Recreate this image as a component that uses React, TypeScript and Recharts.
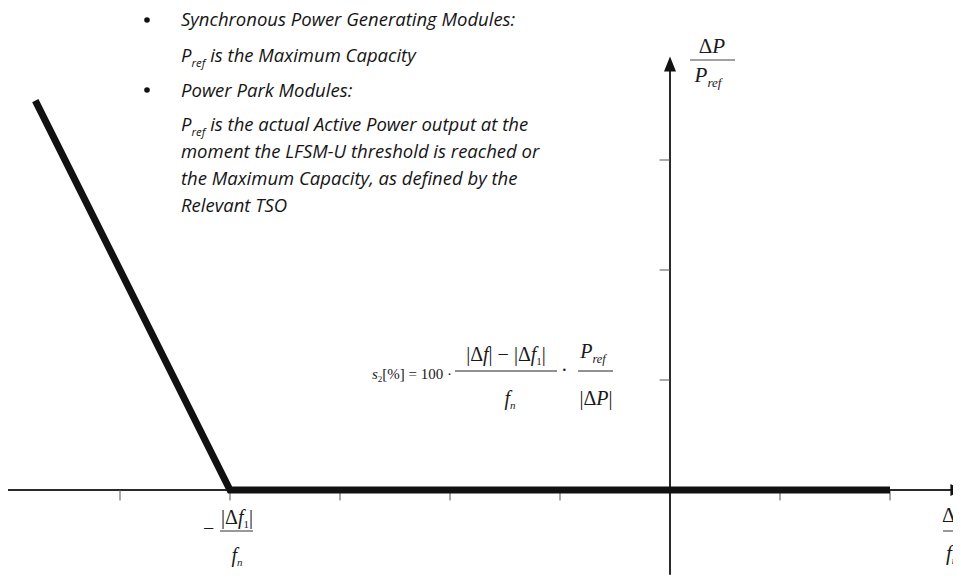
import React from 'react';
import {
  LineChart,
  Line,
  XAxis,
  YAxis,
  ReferenceLine,
  ReferenceDot,
} from 'recharts';

// one unit = 110px in the original drawing
const curveX = [-5.77, -4, 2];
const curveY = [3.54, 0, 0];
const xTicks = [-5, -4, -3, -2, -1, 1, 2];
const yTicks = [1, 2, 3];
const xAxisRange = [-6.03, 2.64];
const yAxisRange = [-0.77, 3.85];

const bulletLines = [
  'Synchronous Power Generating Modules:',
  'is the Maximum Capacity',
  'Power Park Modules:',
  'is the actual Active Power output at the',
  'moment the LFSM-U threshold is reached or',
  'the Maximum Capacity, as defined by the',
  'Relevant TSO',
];

const data = curveX.map((x, i) => ({ x, y: curveY[i] }));

const W = 961;
const H = 585;
const X_DOMAIN: [number, number] = [-670 / 110, 291 / 110];
const Y_DOMAIN: [number, number] = [-95 / 110, 490 / 110];

const AXIS = '#2a2a2a';
const TICK_LEN = 0.095;

const textFont = '"Open Sans", sans-serif';
const mathFont = '"Liberation Serif", "DejaVu Serif", serif';

const ArrowUp = (props: any) => {
  const { cx, cy } = props;
  return <polygon points={`${cx},${cy - 10} ${cx - 6},${cy + 5} ${cx + 6},${cy + 5}`} fill="#111" />;
};

const ArrowRight = (props: any) => {
  const { cx, cy } = props;
  return <polygon points={`${cx + 3},${cy} ${cx - 10},${cy - 6} ${cx - 10},${cy + 6}`} fill="#111" />;
};

const Pref = ({ size }: { size: number }) => (
  <>
    <tspan fontStyle="italic">P</tspan>
    <tspan fontSize={size * 0.62} dy={size * 0.25} fontStyle="italic">ref</tspan>
  </>
);

const Annotations = () => {
  const ys = [26, 62, 97, 131, 158, 185, 212];
  const fs = 18.5;
  return (
    <svg width={W} height={H} style={{ position: 'absolute', left: 0, top: 0, pointerEvents: 'none' }}>
      <g fontFamily={textFont} fontStyle="italic" fontSize={fs} fill="#151515">
        <circle cx={147} cy={20} r={2.8} fill="#111" />
        <circle cx={147} cy={90} r={2.8} fill="#111" />
        {bulletLines.map((t, i) => (
          <text key={i} x={181} y={ys[i]}>
            {i === 1 || i === 3 ? (
              <>
                <Pref size={fs} />
                <tspan dy={-fs * 0.25}> {t}</tspan>
              </>
            ) : (
              t
            )}
          </text>
        ))}
      </g>

      {/* formula */}
      <g fontFamily={mathFont} fontSize={15} fill="#1a1a1a">
        <text x={372} y={379}>
          <tspan fontStyle="italic">s</tspan>
          <tspan fontSize={9} dy={3}>2</tspan>
          <tspan dy={-3}>[%] = 100 ·</tspan>
        </text>
      </g>
      <g fontFamily={mathFont} fontSize={20} fill="#1a1a1a">
        <text x={506} y={361} textAnchor="middle">
          |Δ<tspan fontStyle="italic">f</tspan>| − |Δ<tspan fontStyle="italic">f</tspan>
          <tspan fontSize={11} dy={4}>1</tspan>
          <tspan dy={-4}>|</tspan>
        </text>
        <line x1={455} x2={557} y1={371} y2={371} stroke="#222" strokeWidth={1} />
        <text x={510} y={405} textAnchor="middle">
          <tspan fontStyle="italic">f</tspan>
          <tspan fontSize={11} dy={4} fontStyle="italic">n</tspan>
        </text>
        <text x={561} y={377}>·</text>
        <text x={593} y={358} textAnchor="middle">
          <Pref size={20} />
        </text>
        <line x1={578} x2={613} y1={371} y2={371} stroke="#222" strokeWidth={1} />
        <text x={596} y={405} textAnchor="middle">
          |Δ<tspan fontStyle="italic">P</tspan>|
        </text>
      </g>

      {/* y axis label */}
      <g fontFamily={mathFont} fontSize={21} fill="#1a1a1a">
        <text x={712} y={53} textAnchor="middle">
          Δ<tspan fontStyle="italic">P</tspan>
        </text>
        <line x1={690} x2={735} y1={60} y2={60} stroke="#444" strokeWidth={1} />
        <text x={708} y={82} textAnchor="middle">
          <Pref size={21} />
        </text>
      </g>

      {/* knee label */}
      <g fontFamily={mathFont} fontSize={20} fill="#1a1a1a">
        <text x={203} y={535}>−</text>
        <text x={237} y={524} textAnchor="middle">
          |Δ<tspan fontStyle="italic">f</tspan>
          <tspan fontSize={11} dy={4}>1</tspan>
          <tspan dy={-4}>|</tspan>
        </text>
        <line x1={220} x2={253} y1={531} y2={531} stroke="#333" strokeWidth={1} />
        <text x={237} y={562} textAnchor="middle">
          <tspan fontStyle="italic">f</tspan>
          <tspan fontSize={11} dy={4} fontStyle="italic">n</tspan>
        </text>
      </g>

      {/* x axis label, cut by the edge */}
      <g fontFamily={mathFont} fontSize={21} fill="#1a1a1a">
        <text x={942} y={522}>
          Δ<tspan fontStyle="italic">f</tspan>
        </text>
        <line x1={943} x2={961} y1={531} y2={531} stroke="#333" strokeWidth={1} />
        <text x={946} y={560}>
          <tspan fontStyle="italic">f</tspan>
          <tspan fontSize={11} dy={4} fontStyle="italic">n</tspan>
        </text>
      </g>
    </svg>
  );
};

export default function App() {
  return (
    <div style={{ position: 'relative', width: W, height: H, margin: -8, background: '#fff', overflow: 'hidden' }}>
      <LineChart width={W} height={H} data={data} margin={{ top: 0, right: 0, bottom: 0, left: 0 }}>
        <XAxis type="number" dataKey="x" domain={X_DOMAIN} allowDataOverflow hide />
        <YAxis type="number" domain={Y_DOMAIN} allowDataOverflow hide />

        <ReferenceLine
          segment={[{ x: xAxisRange[0], y: 0 }, { x: xAxisRange[1], y: 0 }]}
          stroke={AXIS}
          strokeWidth={2}
        />
        <ReferenceLine
          segment={[{ x: 0, y: yAxisRange[0] }, { x: 0, y: yAxisRange[1] }]}
          stroke={AXIS}
          strokeWidth={2}
        />
        {xTicks.map((t) => (
          <ReferenceLine
            key={`xt${t}`}
            segment={[{ x: t, y: 0 }, { x: t, y: -TICK_LEN }]}
            stroke="#555"
            strokeWidth={1}
          />
        ))}
        {yTicks.map((t) => (
          <ReferenceLine
            key={`yt${t}`}
            segment={[{ x: 0, y: t }, { x: -TICK_LEN, y: t }]}
            stroke="#555"
            strokeWidth={1}
          />
        ))}
        <ReferenceDot x={0} y={yAxisRange[1]} r={0} shape={ArrowUp} />
        <ReferenceDot x={xAxisRange[1]} y={0} r={0} shape={ArrowRight} />

        <Line
          type="linear"
          dataKey="y"
          stroke="#111"
          strokeWidth={7}
          dot={false}
          isAnimationActive={false}
        />
      </LineChart>
      <Annotations />
    </div>
  );
}
